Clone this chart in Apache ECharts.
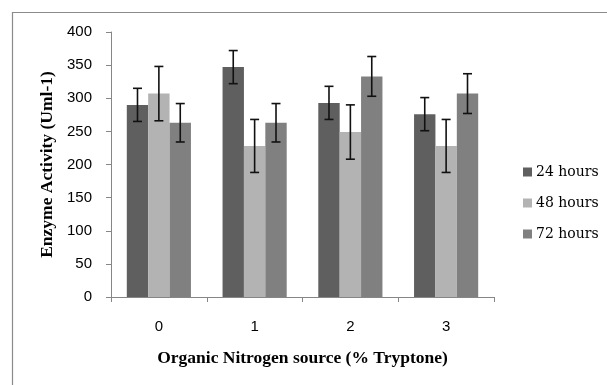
<!DOCTYPE html>
<html>
<head>
<meta charset="utf-8">
<script src="https://cdn.jsdelivr.net/npm/echarts@6/dist/echarts.min.js"></script>
<style>html,body{margin:0;padding:0;background:#fff;}#c{width:607px;height:385px;}</style>
</head>
<body>
<div id="c"></div>
<script>
const categories = ['0', '1', '2', '3'];
const seriesNames = ['24 hours', '48 hours', '72 hours'];
const values24 = [290, 347, 293, 276];
const values48 = [307, 228, 249, 228];
const values72 = [263, 263, 333, 307];
const err24 = [25, 25, 25, 25];
const err48 = [41, 40, 41, 40];
const err72 = [29, 29, 30, 30];
const yTicks = [0, 50, 100, 150, 200, 250, 300, 350, 400];

const colors = ['#5f5f5f', '#b3b3b3', '#808080'];
const values = [values24, values48, values72];
const errs = [err24, err48, err72];
const catGap = 0.33;

const chart = echarts.init(document.getElementById('c'));
const series = [];
values.forEach((v, i) => {
  series.push({
    name: seriesNames[i], type: 'bar', data: v,
    barGap: '0%', barCategoryGap: (catGap * 100) + '%',
    itemStyle: { color: colors[i] }, z: 2
  });
});
values.forEach((v, i) => {
  series.push({
    type: 'custom', z: 5, silent: true,
    data: v.map((val, k) => [k, val - errs[i][k], val + errs[i][k]]),
    renderItem: function (params, api) {
      const band = api.size([1, 0])[0];
      const bw = band * (1 - catGap) / 3;
      const off = (i - 1) * bw;
      const lo = api.coord([api.value(0), api.value(1)]);
      const hi = api.coord([api.value(0), api.value(2)]);
      const x = lo[0] + off;
      const cap = 4.5;
      const st = { stroke: '#111', lineWidth: 1.6 };
      return { type: 'group', children: [
        { type: 'line', shape: { x1: x, y1: lo[1], x2: x, y2: hi[1] }, style: st },
        { type: 'line', shape: { x1: x - cap, y1: lo[1], x2: x + cap, y2: lo[1] }, style: st },
        { type: 'line', shape: { x1: x - cap, y1: hi[1], x2: x + cap, y2: hi[1] }, style: st }
      ]};
    },
    encode: { x: 0, y: [1, 2] }
  });
});

chart.setOption({
  animation: false,
  graphic: [{
    type: 'rect', shape: { x: 12.5, y: 12.5, width: 700, height: 500 },
    style: { fill: 'none', stroke: '#8a8a8a', lineWidth: 1.2 }, z: 0
  }],
  grid: { left: 111, right: 113, top: 32, bottom: 88 },
  legend: {
    orient: 'vertical', left: 523, top: 164, padding: 0,
    data: seriesNames, itemWidth: 9, itemHeight: 9, itemGap: 15,
    icon: 'rect',
    textStyle: { fontFamily: 'DejaVu Serif', fontSize: 14, color: '#000', lineHeight: 16, padding: [0, 0, 0, -1] }
  },
  xAxis: {
    type: 'category', data: categories,
    axisLine: { lineStyle: { color: '#868686', width: 1 } },
    axisTick: { show: true, length: 5, alignWithLabel: false, lineStyle: { color: '#868686' } },
    axisLabel: { margin: 22, fontFamily: 'Liberation Sans', fontSize: 15, color: '#000' },
    name: 'Organic Nitrogen source (% Tryptone)', nameLocation: 'middle', nameGap: 52,
    nameTextStyle: { fontFamily: 'Liberation Serif', fontWeight: 'bold', fontSize: 17.5, color: '#000' }
  },
  yAxis: {
    type: 'value', min: yTicks[0], max: yTicks[yTicks.length - 1], interval: 50,
    axisLine: { show: true, lineStyle: { color: '#868686', width: 1 } },
    axisTick: { show: true, length: 5, lineStyle: { color: '#868686' } },
    splitLine: { show: false },
    axisLabel: { margin: 19, fontFamily: 'Liberation Sans', fontSize: 15, color: '#000' },
    name: 'Enzyme Activity (Uml-1)', nameLocation: 'middle', nameGap: 55,
    nameTextStyle: { fontFamily: 'Liberation Serif', fontWeight: 'bold', fontSize: 17.5, color: '#000' }
  },
  series: series
});
</script>
</body>
</html>
